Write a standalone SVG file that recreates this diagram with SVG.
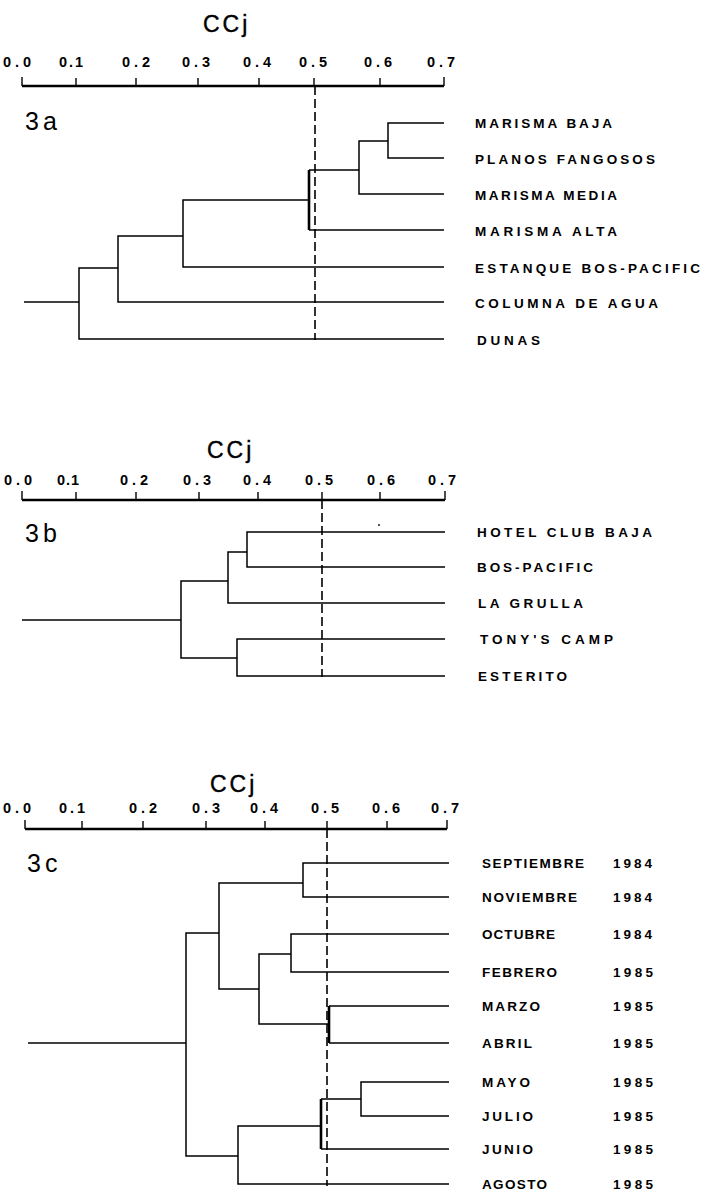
<svg xmlns="http://www.w3.org/2000/svg" width="707" height="1197" viewBox="0 0 707 1197">
<style>
.bg{fill:#fff}
.axis{stroke:#000;stroke-width:2.6;fill:none}
.tick{stroke:#000;stroke-width:1.4}
.tl{font-family:"Liberation Sans",Arial,sans-serif;font-weight:bold;font-size:14.5px;text-anchor:middle;fill:#000}
.ccj{font-family:"Liberation Sans",Arial,sans-serif;font-size:23px;letter-spacing:3px;fill:#000;stroke:#000;stroke-width:0.4}
.pl{font-family:"Liberation Sans",Arial,sans-serif;font-size:25px;letter-spacing:4px;fill:#000}
.dash{stroke:#000;stroke-width:1.6;stroke-dasharray:9 4;fill:none}
.br{stroke:#000;stroke-width:1.5;fill:none}
.thk{stroke:#000;stroke-width:2.6;fill:none}
.lb{font-family:"Liberation Sans",Arial,sans-serif;font-weight:bold;font-size:13.5px;fill:#000}
</style>
<rect class="bg" x="0" y="0" width="707" height="1197"/>

<!-- Panel 3a -->
<g id="axis-3a">
<text class="ccj" x="203" y="32">CCj</text>
<line class="axis" x1="22" y1="86" x2="444" y2="86"/>
<path class="tick" d="M22,77V86M76,78V86M136,78V86M198,78V86M259,78V86M314,78V86M380,78V86M444,77V86"/>
<text class="tl" x="17" y="67" textLength="28" lengthAdjust="spacing">0.0</text>
<text class="tl" x="71" y="67" textLength="24" lengthAdjust="spacing">0.1</text>
<text class="tl" x="136" y="67" textLength="28" lengthAdjust="spacing">0.2</text>
<text class="tl" x="196" y="67" textLength="28" lengthAdjust="spacing">0.3</text>
<text class="tl" x="257" y="67" textLength="28" lengthAdjust="spacing">0.4</text>
<text class="tl" x="313" y="67" textLength="28" lengthAdjust="spacing">0.5</text>
<text class="tl" x="378" y="67" textLength="28" lengthAdjust="spacing">0.6</text>
<text class="tl" x="441" y="67" textLength="28" lengthAdjust="spacing">0.7</text>
<text class="pl" x="25" y="130">3a</text>
</g>
<g id="connectors-3a">
<line class="dash" x1="315" y1="86" x2="315" y2="340"/>
<path class="br" d="M444,123H388V158H444"/>
<path class="br" d="M388,141H359V194H444"/>
<path class="br" d="M359,170H309M309,230H444"/>
<path class="thk" d="M309,170V230"/>
<path class="br" d="M309,200H183V267H444"/>
<path class="br" d="M183,236H118V302H444"/>
<path class="br" d="M118,268H79V339H444"/>
<path class="br" d="M24,302H79"/>
</g>
<g id="node-marisma-baja"><text class="lb" x="475" y="128" textLength="137" lengthAdjust="spacing">MARISMA BAJA</text></g>
<g id="node-planos-fangosos"><text class="lb" x="475" y="164" textLength="180" lengthAdjust="spacing">PLANOS FANGOSOS</text></g>
<g id="node-marisma-media"><text class="lb" x="475" y="200" textLength="142" lengthAdjust="spacing">MARISMA MEDIA</text></g>
<g id="node-marisma-alta"><text class="lb" x="475" y="236" textLength="142" lengthAdjust="spacing">MARISMA ALTA</text></g>
<g id="node-estanque"><text class="lb" x="475" y="273" textLength="225" lengthAdjust="spacing">ESTANQUE BOS-PACIFIC</text></g>
<g id="node-columna"><text class="lb" x="475" y="308" textLength="183" lengthAdjust="spacing">COLUMNA DE AGUA</text></g>
<g id="node-dunas"><text class="lb" x="477" y="345" textLength="63" lengthAdjust="spacing">DUNAS</text></g>

<!-- Panel 3b -->
<g id="axis-3b">
<text class="ccj" x="207" y="458">CCj</text>
<line class="axis" x1="22" y1="500" x2="445" y2="500"/>
<path class="tick" d="M22,491V500M76,492V500M136,492V500M199,492V500M258,492V500M322,492V500M380,492V500M445,491V500"/>
<text class="tl" x="18" y="485" textLength="28" lengthAdjust="spacing">0.0</text>
<text class="tl" x="68" y="485" textLength="22" lengthAdjust="spacing">0.1</text>
<text class="tl" x="134" y="485" textLength="28" lengthAdjust="spacing">0.2</text>
<text class="tl" x="197" y="485" textLength="28" lengthAdjust="spacing">0.3</text>
<text class="tl" x="257" y="485" textLength="28" lengthAdjust="spacing">0.4</text>
<text class="tl" x="319" y="485" textLength="28" lengthAdjust="spacing">0.5</text>
<text class="tl" x="381" y="485" textLength="28" lengthAdjust="spacing">0.6</text>
<text class="tl" x="442" y="485" textLength="28" lengthAdjust="spacing">0.7</text>
<text class="pl" x="25" y="542">3b</text>
<circle cx="379" cy="525" r="0.9" fill="#000"/>
</g>
<g id="connectors-3b">
<line class="dash" x1="322" y1="500" x2="322" y2="677"/>
<path class="br" d="M445,532H247V567H445"/>
<path class="br" d="M247,552H228V603H445"/>
<path class="br" d="M445,639H237V676H445"/>
<path class="br" d="M228,581H181V658H237"/>
<path class="br" d="M22,620H181"/>
</g>
<g id="node-hotel"><text class="lb" x="477" y="537" textLength="175" lengthAdjust="spacing">HOTEL CLUB BAJA</text></g>
<g id="node-bos-pacific"><text class="lb" x="477" y="572" textLength="116" lengthAdjust="spacing">BOS-PACIFIC</text></g>
<g id="node-la-grulla"><text class="lb" x="478" y="608" textLength="105" lengthAdjust="spacing">LA GRULLA</text></g>
<g id="node-tonys"><text class="lb" x="480" y="644" textLength="133" lengthAdjust="spacing">TONY'S CAMP</text></g>
<g id="node-esterito"><text class="lb" x="478" y="681" textLength="89" lengthAdjust="spacing">ESTERITO</text></g>

<!-- Panel 3c -->
<g id="axis-3c">
<text class="ccj" x="210" y="792">CCj</text>
<line class="axis" x1="25" y1="829" x2="447" y2="829"/>
<path class="tick" d="M25,820V829M82,821V829M143,821V829M206,821V829M265,821V829M327,821V829M387,821V829M447,820V829"/>
<text class="tl" x="17" y="813" textLength="28" lengthAdjust="spacing">0.0</text>
<text class="tl" x="72" y="813" textLength="26" lengthAdjust="spacing">0.1</text>
<text class="tl" x="143" y="813" textLength="28" lengthAdjust="spacing">0.2</text>
<text class="tl" x="206" y="813" textLength="28" lengthAdjust="spacing">0.3</text>
<text class="tl" x="264" y="813" textLength="28" lengthAdjust="spacing">0.4</text>
<text class="tl" x="325" y="813" textLength="28" lengthAdjust="spacing">0.5</text>
<text class="tl" x="386" y="813" textLength="28" lengthAdjust="spacing">0.6</text>
<text class="tl" x="445" y="813" textLength="28" lengthAdjust="spacing">0.7</text>
<text class="pl" x="27" y="872">3c</text>
</g>
<g id="connectors-3c">
<line class="dash" x1="327" y1="829" x2="327" y2="1186"/>
<path class="br" d="M449,863H303V897H449"/>
<path class="br" d="M449,934H291V972H449"/>
<path class="br" d="M449,1006H329M329,1043H449"/>
<path class="thk" d="M329,1006V1043"/>
<path class="br" d="M291,954H259V1024H329"/>
<path class="br" d="M303,883H219V989H259"/>
<path class="br" d="M449,1082H361V1116H449"/>
<path class="br" d="M361,1099H321M321,1149H449"/>
<path class="thk" d="M321,1099V1149"/>
<path class="br" d="M321,1126H238V1184H449"/>
<path class="br" d="M219,933H186V1156H238"/>
<path class="br" d="M28,1043H186"/>
</g>
<g id="node-septiembre"><text class="lb" x="482" y="868" textLength="102" lengthAdjust="spacing">SEPTIEMBRE</text><text class="lb" x="613" y="868" textLength="39" lengthAdjust="spacing">1984</text></g>
<g id="node-noviembre"><text class="lb" x="482" y="902" textLength="95" lengthAdjust="spacing">NOVIEMBRE</text><text class="lb" x="613" y="902" textLength="39" lengthAdjust="spacing">1984</text></g>
<g id="node-octubre"><text class="lb" x="482" y="939" textLength="73" lengthAdjust="spacing">OCTUBRE</text><text class="lb" x="613" y="939" textLength="39" lengthAdjust="spacing">1984</text></g>
<g id="node-febrero"><text class="lb" x="482" y="977" textLength="75" lengthAdjust="spacing">FEBRERO</text><text class="lb" x="613" y="977" textLength="40" lengthAdjust="spacing">1985</text></g>
<g id="node-marzo"><text class="lb" x="482" y="1011" textLength="58" lengthAdjust="spacing">MARZO</text><text class="lb" x="613" y="1011" textLength="40" lengthAdjust="spacing">1985</text></g>
<g id="node-abril"><text class="lb" x="482" y="1048" textLength="50" lengthAdjust="spacing">ABRIL</text><text class="lb" x="613" y="1048" textLength="40" lengthAdjust="spacing">1985</text></g>
<g id="node-mayo"><text class="lb" x="482" y="1087" textLength="48" lengthAdjust="spacing">MAYO</text><text class="lb" x="613" y="1087" textLength="40" lengthAdjust="spacing">1985</text></g>
<g id="node-julio"><text class="lb" x="482" y="1121" textLength="51" lengthAdjust="spacing">JULIO</text><text class="lb" x="613" y="1121" textLength="40" lengthAdjust="spacing">1985</text></g>
<g id="node-junio"><text class="lb" x="482" y="1154" textLength="51" lengthAdjust="spacing">JUNIO</text><text class="lb" x="613" y="1154" textLength="40" lengthAdjust="spacing">1985</text></g>
<g id="node-agosto"><text class="lb" x="482" y="1189" textLength="65" lengthAdjust="spacing">AGOSTO</text><text class="lb" x="613" y="1189" textLength="40" lengthAdjust="spacing">1985</text></g>
</svg>
